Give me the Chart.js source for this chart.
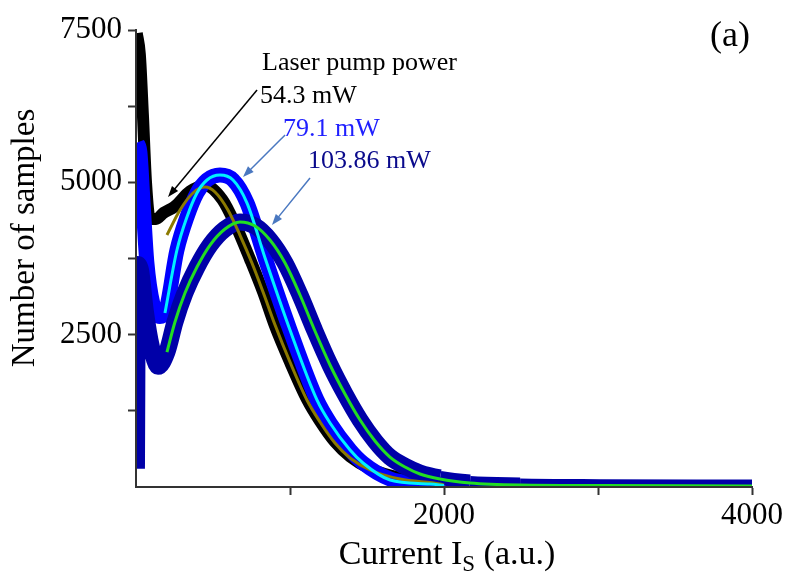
<!DOCTYPE html>
<html>
<head>
<meta charset="utf-8">
<script src="https://cdn.jsdelivr.net/npm/chart.js@4.4.1/dist/chart.umd.min.js"></script>
<style>
  html, body { margin: 0; padding: 0; background: #fff; }
  #wrap { width: 789px; height: 572px; position: relative; }
</style>
</head>
<body>
<div id="wrap"><canvas id="c"></canvas></div>
<script>
const FONT = "'Liberation Serif', 'Times New Roman', serif";

// measured data (54.3 mW)
const p54X = [5, 25, 45, 65, 90, 130, 180, 250, 350, 450, 560, 650, 740, 825, 903, 1000, 1110, 1195, 1292, 1390, 1520, 1714, 1850, 1975];
const p54Y = [7450, 7100, 6100, 5000, 4400, 4400, 4500, 4600, 4850, 4950, 4720, 4280, 3740, 3200, 2640, 2050, 1440, 1080, 740, 500, 300, 150, 100, 50];
// measured data (79.1 mW)
const p79X = [5, 25, 45, 70, 110, 155, 188, 266, 331, 396, 461, 545, 630, 721, 838, 1000, 1175, 1260, 1390, 1474, 1650, 1800, 1950];
const p79Y = [5650, 5500, 4700, 3700, 3000, 2800, 2855, 3889, 4431, 4825, 5038, 5120, 5038, 4660, 3758, 2576, 1428, 1050, 607, 394, 130, 60, 30];
// measured data (103.86 mW)
const p103X = [3, 10, 30, 60, 100, 143, 201, 253, 318, 396, 481, 578, 675, 773, 870, 968, 1065, 1162, 1260, 1357, 1455, 1552, 1649, 1747, 1844, 1974, 2169, 2494, 3013, 4000];
const p103Y = [300, 3650, 3550, 2900, 2300, 1980, 2215, 2708, 3184, 3610, 3971, 4234, 4349, 4283, 4053, 3676, 3151, 2560, 2002, 1526, 1099, 755, 492, 340, 230, 150, 90, 65, 55, 50];

// fitted curves
const fit54X = [201, 286, 370, 448, 513, 597, 675, 753, 825, 903, 1000, 1110, 1195, 1292, 1390, 1520, 1714, 1974, 2000];
const fit54Y = [4135, 4546, 4825, 4923, 4841, 4546, 4135, 3676, 3200, 2658, 2051, 1428, 1067, 722, 476, 279, 131, 49, 33];
const fit79X = [188, 266, 331, 396, 461, 545, 630, 721, 838, 1000, 1175, 1260, 1390, 1474, 1650, 1909, 2000];
const fit79Y = [2855, 3889, 4431, 4825, 5038, 5120, 5038, 4660, 3758, 2576, 1428, 1050, 607, 394, 115, 49, 25];
const fit103X = [201, 253, 318, 396, 481, 578, 675, 773, 870, 968, 1065, 1162, 1260, 1357, 1455, 1552, 1649, 1747, 1844, 1974, 2169, 2494, 3013, 4000];
const fit103Y = [2215, 2708, 3184, 3610, 3971, 4234, 4349, 4283, 4053, 3676, 3151, 2560, 2002, 1526, 1099, 755, 492, 328, 213, 131, 66, 33, 25, 16];

const xLabels = [2000, 4000];
const yLabels = [2500, 5000, 7500];

const pts = (xs, ys) => xs.map((x, i) => ({ x, y: ys[i] }));

// the bands get thinner in the flat tail
const tailWidth = (x, width) => x >= 2494 ? 9 : x >= 2169 ? 11 : x >= 1974 ? 14 : width;

const band = (data, color, width, order) => ({
  data, borderColor: color, borderWidth: width, showLine: true,
  pointRadius: 0, cubicInterpolationMode: 'monotone', clip: 0, order,
  borderJoinStyle: 'round',
  segment: { borderWidth: ctx => tailWidth(ctx.p0.parsed.x, width) },
});
const fitLine = (data, color, order) => ({
  data, borderColor: color, borderWidth: 3, showLine: true,
  pointRadius: 0, cubicInterpolationMode: 'monotone', clip: 0, order,
});

function arrow(ctx, x1, y1, x2, y2, color, w) {
  const a = Math.atan2(y2 - y1, x2 - x1);
  const L = 11, H = 4;
  ctx.save();
  ctx.strokeStyle = color; ctx.fillStyle = color; ctx.lineWidth = w;
  ctx.beginPath();
  ctx.moveTo(x1, y1);
  ctx.lineTo(x2 - Math.cos(a) * L * 0.8, y2 - Math.sin(a) * L * 0.8);
  ctx.stroke();
  ctx.beginPath();
  ctx.moveTo(x2, y2);
  ctx.lineTo(x2 - L * Math.cos(a) + H * Math.sin(a), y2 - L * Math.sin(a) - H * Math.cos(a));
  ctx.lineTo(x2 - L * Math.cos(a) - H * Math.sin(a), y2 - L * Math.sin(a) + H * Math.cos(a));
  ctx.closePath();
  ctx.fill();
  ctx.restore();
}

const annotations = {
  id: 'annotations',
  afterDraw(chart) {
    const { ctx } = chart;
    const sx = chart.scales.x, sy = chart.scales.y;
    const P = (x, y) => [sx.getPixelForValue(x), sy.getPixelForValue(y)];

    // arrows, end points in data units
    let a = P(786, 6515), b = P(208, 4760);
    arrow(ctx, a[0], a[1], b[0], b[1], '#000', 1.5);
    a = P(968, 5777); b = P(695, 5088);
    arrow(ctx, a[0], a[1], b[0], b[1], '#4a78c0', 1.5);
    a = P(1130, 5071); b = P(883, 4300);
    arrow(ctx, a[0], a[1], b[0], b[1], '#4a78c0', 1.5);

    ctx.save();
    ctx.textBaseline = 'alphabetic';
    ctx.textAlign = 'left';
    ctx.font = `26px ${FONT}`;
    ctx.fillStyle = '#000';
    ctx.fillText('Laser pump power', 262, 70);
    ctx.fillText('54.3 mW', 260, 103);
    ctx.fillStyle = '#1f1fff';
    ctx.fillText('79.1 mW', 283, 136);
    ctx.fillStyle = '#0a0a8c';
    ctx.fillText('103.86 mW', 308, 168);

    ctx.fillStyle = '#000';
    ctx.font = `36px ${FONT}`;
    ctx.fillText('(a)', 710, 46);

    // y axis title
    ctx.save();
    ctx.translate(25, 238);
    ctx.rotate(-Math.PI / 2);
    ctx.textAlign = 'center';
    ctx.textBaseline = 'middle';
    ctx.font = `33px ${FONT}`;
    ctx.fillText('Number of samples', 0, 0);
    ctx.restore();

    // x axis title with subscript
    const big = `34px ${FONT}`, small = `23px ${FONT}`;
    ctx.font = big;
    const t1 = 'Current I', t3 = ' (a.u.)';
    const w1 = ctx.measureText(t1).width, w3 = ctx.measureText(t3).width;
    ctx.font = small;
    const w2 = ctx.measureText('S').width;
    const cx = 447;
    const x0 = cx - (w1 + w2 + w3) / 2;
    const base = 564;
    ctx.font = big; ctx.fillText(t1, x0, base);
    ctx.font = small; ctx.fillText('S', x0 + w1, base + 7);
    ctx.font = big; ctx.fillText(t3, x0 + w1 + w2, base);
    ctx.restore();
  }
};

const tickCol = c => (c.tick && c.tick.value === 0) ? 'rgba(0,0,0,0)' : '#333';

new Chart(document.getElementById('c'), {
  type: 'scatter',
  data: {
    datasets: [
      band(pts(p54X, p54Y), '#000000', 12, 5),
      band(pts(p79X, p79Y), '#0000ff', 15, 4),
      band(pts(p103X, p103Y), '#0000a8', 17, 3),
      fitLine(pts(fit54X, fit54Y), '#8c7a00', 2),
      fitLine(pts(fit79X, fit79Y), '#00f0ff', 1),
      fitLine(pts(fit103X, fit103Y), '#22dd22', 0),
    ],
  },
  options: {
    responsive: true,
    maintainAspectRatio: false,
    animation: false,
    layout: { padding: { top: 30, right: 37, left: 0, bottom: 0 } },
    plugins: { legend: { display: false }, tooltip: { enabled: false } },
    scales: {
      x: {
        type: 'linear', min: 0, max: 4000,
        afterFit: s => { s.height = 85; },
        border: { display: true, color: '#333', width: 2, z: 1 },
        grid: { drawOnChartArea: false, drawTicks: true, tickLength: 8, tickWidth: 2, tickColor: tickCol },
        ticks: {
          stepSize: 1000, padding: 2, color: '#000', maxRotation: 0,
          font: { family: FONT, size: 31 },
          callback: v => xLabels.includes(v) ? String(v) : '',
        },
        title: { display: false },
      },
      y: {
        type: 'linear', min: 0, max: 7500,
        afterFit: s => { s.width = 136; },
        border: { display: true, color: '#333', width: 2, z: 1 },
        grid: { drawOnChartArea: false, drawTicks: true, tickLength: 8, tickWidth: 2, tickColor: tickCol },
        ticks: {
          stepSize: 1250, padding: 6, color: '#000',
          font: { family: FONT, size: 31 },
          callback: v => yLabels.includes(v) ? String(v) : '',
        },
        title: { display: false },
      },
    },
  },
  plugins: [annotations],
});
</script>
</body>
</html>
